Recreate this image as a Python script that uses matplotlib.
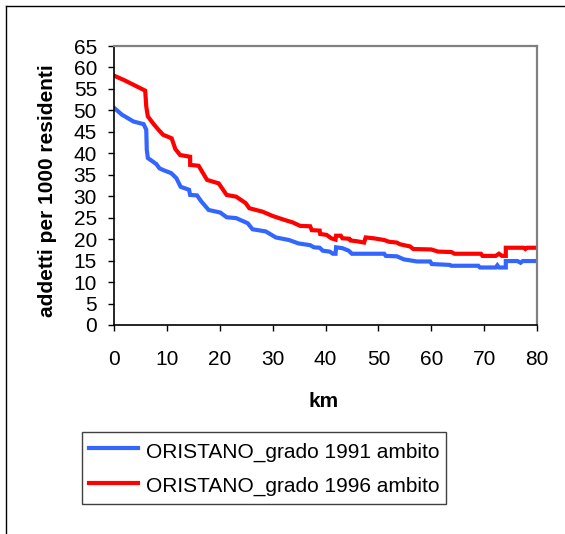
import matplotlib
matplotlib.use("Agg")
import matplotlib.pyplot as plt
from matplotlib.lines import Line2D

plt.rcParams['font.family'] = ['Liberation Sans', 'DejaVu Sans']

# dati
km_1991 = [0, 1.5, 3.7, 5.6, 6.1, 6.2, 6.4, 8.0, 8.6, 9.5, 10.8, 11.8, 12.6, 14.2, 14.4,
           15.7, 16.5, 17.9, 20.1, 21.3, 23.1, 25.3, 26.2, 28.7, 30.6, 33.1, 34.9, 37.1,
           37.8, 38.9, 39.5, 40.8, 41.4, 41.9, 42.0, 43.2, 44.4, 45.0, 51.1, 51.4, 53.5,
           54.8, 57.3, 59.8, 60.1, 63.5, 63.8, 68.9, 69.2, 72.2, 72.5, 72.8, 74.1, 74.1,
           76.3, 76.9, 77.3, 80]
val_1991 = [50.6, 49.0, 47.4, 46.8, 45.5, 40.8, 38.9, 37.5, 36.5, 36.0, 35.4, 34.2, 32.2,
            31.5, 30.3, 30.2, 28.8, 26.8, 26.2, 25.1, 24.9, 23.7, 22.3, 21.8, 20.4, 19.8,
            19.0, 18.6, 18.1, 18.0, 17.3, 17.1, 16.6, 16.6, 18.1, 17.9, 17.3, 16.6, 16.6,
            16.1, 16.0, 15.3, 14.8, 14.8, 14.2, 14.0, 13.8, 13.8, 13.4, 13.4, 13.9, 13.4,
            13.4, 14.9, 14.9, 14.5, 14.9, 14.9]

km_1996 = [0, 2.0, 5.9, 6.1, 6.4, 7.5, 8.4, 9.3, 10.9, 11.6, 12.5, 14.4, 14.4, 16.0, 17.6,
           19.8, 21.3, 23.1, 24.9, 25.6, 28.1, 30.0, 32.2, 33.8, 35.2, 37.1, 37.4, 38.9,
           39.0, 40.2, 41.1, 41.9, 42.0, 42.9, 43.2, 44.5, 44.7, 46.0, 47.3, 47.6, 49.1,
           51.1, 52.0, 53.5, 54.1, 56.0, 56.6, 60.0, 61.3, 63.8, 64.4, 69.4, 69.7, 72.2,
           72.8, 73.4, 74.1, 74.1, 77.5, 77.8, 78.1, 80]
val_1996 = [58.1, 57.0, 54.6, 50.9, 48.6, 46.8, 45.5, 44.3, 43.5, 41.0, 39.6, 39.2, 37.3,
            37.1, 33.8, 33.0, 30.3, 29.9, 28.4, 27.2, 26.4, 25.4, 24.5, 23.9, 23.1, 23.0,
            22.1, 22.0, 21.2, 21.0, 20.2, 19.9, 20.8, 20.8, 20.2, 20.1, 19.7, 19.5, 19.2,
            20.4, 20.2, 19.8, 19.4, 19.2, 18.8, 18.3, 17.7, 17.6, 17.1, 17.0, 16.6, 16.6,
            16.1, 16.1, 16.6, 16.1, 16.1, 18.0, 18.0, 17.7, 18.0, 18.0]

etichette = ['ORISTANO_grado 1991 ambito', 'ORISTANO_grado 1996 ambito']
colori = ['#3366FF', '#FF0000']

W, H = 565, 534
fig = plt.figure(figsize=(W / 100, H / 100), dpi=100)
ax = fig.add_axes([114 / W, 1 - 325 / H, (537 - 114) / W, (325 - 46) / H])

l1, = ax.plot(km_1991, val_1991, color=colori[0], lw=3, solid_joinstyle='miter')
l2, = ax.plot(km_1996, val_1996, color=colori[1], lw=3, solid_joinstyle='miter')

ax.set_xlim(0, 80)
ax.set_ylim(0, 65)
ax.set_xticks(range(0, 81, 10))
ax.set_yticks(range(0, 66, 5))
ax.tick_params(axis='both', labelsize=15, length=4.3, width=1, direction='out', color='black')
ax.tick_params(axis='y', pad=8)
ax.tick_params(axis='x', pad=14)
for s in ['left', 'bottom']:
    ax.spines[s].set_color('black')
    ax.spines[s].set_linewidth(1.2)
for s in ['top', 'right']:
    ax.spines[s].set_color('#808080')
    ax.spines[s].set_linewidth(1.6)

fig.text(324 / W, 1 - 407 / H, 'km', fontsize=15, fontweight='bold',
         ha='center', va='baseline')
fig.text(53 / W, 1 - 191 / H, 'addetti per 1000 residenti', fontsize=15, fontweight='bold',
         rotation=90, rotation_mode='anchor', ha='center', va='baseline')

fig.legend([l1, l2], etichette, loc='upper left', bbox_to_anchor=(82 / W, 1 - 432 / H),
           bbox_transform=fig.transFigure, fontsize=15, frameon=True, fancybox=False,
           edgecolor='#404040', framealpha=1, borderaxespad=0, borderpad=0.35,
           handlelength=2.35, handleheight=1.25, handletextpad=0.35, labelspacing=0.6)
fig.legends[0].get_frame().set_linewidth(1)

# cornice esterna (solo lati sinistro e superiore visibili)
fig.add_artist(Line2D([6 / W, 6 / W], [0, 1 - 6 / H], color='black', lw=1,
                      transform=fig.transFigure))
fig.add_artist(Line2D([6 / W, 1], [1 - 6 / H, 1 - 6 / H], color='black', lw=1,
                      transform=fig.transFigure))

fig.savefig('out.png', dpi=100)
